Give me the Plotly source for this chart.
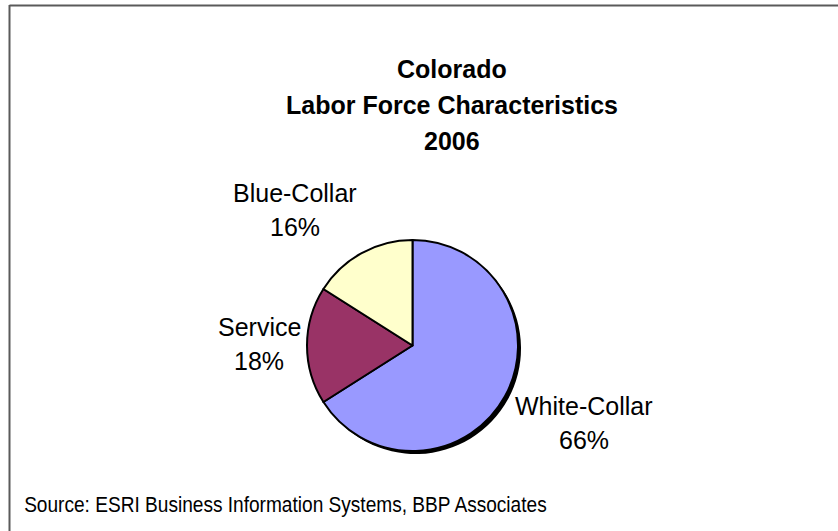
import plotly.graph_objects as go

# Labor force shares, Colorado 2006
categories = ["White-Collar", "Service", "Blue-Collar"]
shares = [66, 18, 16]
slice_colors = ["#9999FF", "#993366", "#FFFFCC"]

title_lines = ["Colorado", "Labor Force Characteristics", "2006"]
source_note = "Source: ESRI Business Information Systems, BBP Associates"

W, H = 838, 531
cx, cy, r = 412.5, 345.5, 105.5   # pie centre / radius in pixels
shadow = 3.0

def dom(x0, y0, rad):
    return dict(x=[(x0 - rad) / W, (x0 + rad) / W],
                y=[(H - y0 - rad) / H, (H - y0 + rad) / H])

FONT = "Liberation Sans, Arial, sans-serif"

fig = go.Figure()

# drop shadow of the pie
fig.add_trace(go.Pie(
    values=shares, labels=categories, sort=False, direction="clockwise",
    rotation=0, textinfo="none", hoverinfo="skip", showlegend=False,
    marker=dict(colors=["#000000"] * len(shares), line=dict(width=0)),
    domain=dom(cx + shadow, cy + shadow, r),
))

fig.add_trace(go.Pie(
    values=shares, labels=categories, sort=False, direction="clockwise",
    rotation=0, textinfo="none", showlegend=False,
    marker=dict(colors=slice_colors, line=dict(color="#000000", width=2)),
    domain=dom(cx, cy, r),
))

def note(text, x, y, size, anchor="center"):
    return dict(text=text, x=x / W, y=1 - y / H, xref="paper", yref="paper",
                showarrow=False, xanchor=anchor, yanchor="middle",
                font=dict(family=FONT, size=size, color="#000000"))

annotations = []
# chart title, one line per annotation for the wide line spacing
for line, y in zip(title_lines, [68, 104, 140]):
    annotations.append(note(f"<b>{line}</b>", 452, y, 25))

# slice labels: name and share on two lines
label_pos = {"Blue-Collar": (295, 192), "Service": (259, 326), "White-Collar": (584, 405)}
for cat, val in zip(categories, shares):
    x, y = label_pos[cat]
    annotations.append(note(cat, x, y, 25))
    annotations.append(note(f"{val}%", x, y + 34, 25))

annotations.append(note(source_note, 22, 504, 19.1, anchor="left"))
source_idx = len(annotations) - 1

shapes = [
    dict(type="line", xref="paper", yref="paper", x0=9.5 / W, x1=9.5 / W, y0=1 - 5 / H, y1=-0.05,
         line=dict(color="#5a5a5a", width=2)),
    dict(type="line", xref="paper", yref="paper", x0=9.5 / W, x1=1.05, y0=1 - 5.5 / H, y1=1 - 5.5 / H,
         line=dict(color="#5a5a5a", width=2)),
]

fig.update_layout(
    width=W, height=H, margin=dict(l=0, r=0, t=0, b=0),
    paper_bgcolor="#FFFFFF", plot_bgcolor="#FFFFFF",
    annotations=annotations, shapes=shapes,
)

# the chart face is a little taller than Liberation Sans: stretch glyphs vertically
stretch_text = """
document.querySelectorAll('g.annotation').forEach(function (g) {
  var t = g.querySelector('text');
  if (!t) return;
  var k = g.getAttribute('data-index') === '%d' ? 1.2 : 1.06;
  t.style.transformBox = 'fill-box';
  t.style.transformOrigin = 'center';
  t.style.transform = 'scaleY(' + k + ')';
});
""" % source_idx

fig.write_html("out.html", config={"displayModeBar": False}, post_script=stretch_text)
